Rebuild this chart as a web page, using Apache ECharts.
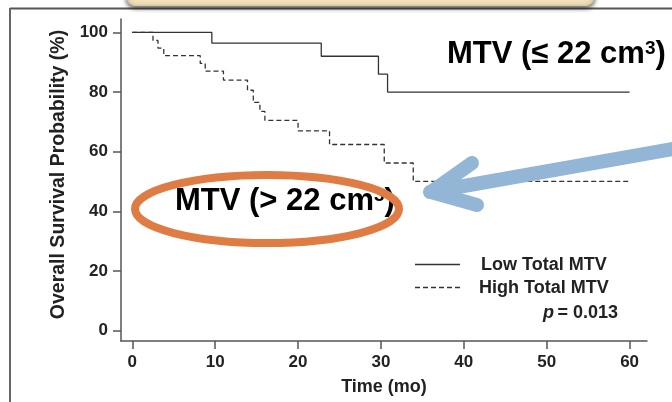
<!DOCTYPE html>
<html>
<head>
<meta charset="utf-8">
<script src="https://cdn.jsdelivr.net/npm/echarts@6/dist/echarts.min.js"></script>
<style>html,body{margin:0;padding:0;background:#fff;}#c{width:672px;height:402px;}</style>
</head>
<body>
<div id="c"></div>
<script>
// ---- data ----
var lowName = 'Low Total MTV';
var highName = 'High Total MTV';
var lowTime = [0, 9.6, 22.8, 29.7, 30.8, 60];
var lowSurv = [100, 96.4, 92.0, 86.0, 80.0, 80.0];
var highTime = [0, 2.5, 3.1, 3.8, 8.2, 8.8, 11.0, 13.9, 14.6, 15.4, 16.0, 20.0, 23.8, 30.4, 33.9, 60];
var highSurv = [100, 97.3, 94.7, 92.2, 89.6, 87.0, 84.0, 80.6, 76.5, 73.5, 70.5, 67.0, 62.4, 56.2, 50.0, 50.0];
var xTicks = [0, 10, 20, 30, 40, 50, 60];
var yTicks = [0, 20, 40, 60, 80, 100];
var pText = '= 0.013';

function pairs(t, s) { return t.map(function (v, i) { return [v, s[i]]; }); }

var FONT = "'Liberation Sans', Arial, sans-serif";
var chart = echarts.init(document.getElementById('c'), null, { renderer: 'canvas' });

var DASH = [5, 3];
var annRich = {
  a: { fontFamily: FONT, fontWeight: 'bold', fontSize: 31, lineHeight: 31, fill: '#000' },
  s: { fontFamily: FONT, fontWeight: 'bold', fontSize: 19, lineHeight: 19, fill: '#000', verticalAlign: 'top' }
};

chart.setOption({
  animation: false,
  backgroundColor: '#ffffff',
  grid: { left: 121, right: 25, top: 19, bottom: 61, containLabel: false },
  xAxis: {
    type: 'value', min: -1.36, max: 62.1,
    name: 'Time (mo)', nameLocation: 'middle', nameGap: 37,
    nameTextStyle: { fontFamily: FONT, fontWeight: 'bold', fontSize: 18, color: '#222' },
    axisLine: { show: true, onZero: false, lineStyle: { color: '#555', width: 1.5 } },
    axisTick: { show: true, length: 8, customValues: xTicks, lineStyle: { color: '#555', width: 1.5 } },
    axisLabel: { customValues: xTicks, margin: 13, fontFamily: FONT, fontWeight: 'bold', fontSize: 17, color: '#222' },
    splitLine: { show: false }
  },
  yAxis: {
    type: 'value', min: -3.52, max: 104.5,
    name: 'Overall Survival Probability (%)', nameLocation: 'middle', nameGap: 48, nameRotate: 90,
    nameTextStyle: { fontFamily: FONT, fontWeight: 'bold', fontSize: 19.5, color: '#222', padding: [0, 0, 0, 11] },
    axisLine: { show: true, onZero: false, lineStyle: { color: '#555', width: 1.5 } },
    axisTick: { show: true, length: 8, customValues: yTicks, lineStyle: { color: '#555', width: 1.5 } },
    axisLabel: { customValues: yTicks, margin: 13, fontFamily: FONT, fontWeight: 'bold', fontSize: 17, color: '#222' },
    splitLine: { show: false }
  },
  series: [
    {
      name: lowName, type: 'line', step: 'end', symbol: 'none',
      lineStyle: { color: '#333', width: 1.3, type: 'solid' },
      data: pairs(lowTime, lowSurv), z: 3
    },
    {
      name: highName, type: 'line', step: 'end', symbol: 'none',
      lineStyle: { color: '#333', width: 1.3, type: DASH },
      data: pairs(highTime, highSurv), z: 3
    }
  ],
  graphic: [
    // frame
    { type: 'line', z: 1, shape: { x1: 10, y1: 8.5, x2: 672, y2: 8.5 }, style: { stroke: '#555', lineWidth: 2 } },
    { type: 'line', z: 1, shape: { x1: 10, y1: 8, x2: 10, y2: 402 }, style: { stroke: '#666', lineWidth: 2 } },
    // beige box at top
    { type: 'rect', z: 5, shape: { x: 127, y: -20, width: 467, height: 25.5, r: 8 },
      style: { fill: '#F1E0BA', stroke: '#D9C39A', lineWidth: 1, shadowBlur: 5, shadowColor: 'rgba(0,0,0,0.65)', shadowOffsetY: 2 } },
    // annotations
    { type: 'text', z: 10, style: { x: 447, y: 54.5, textVerticalAlign: 'middle',
      text: '{a|MTV (≤ 22 cm}{s|3}{a|)}', rich: annRich } },
    { type: 'text', z: 10, style: { x: 175, y: 201.5, textVerticalAlign: 'middle',
      text: '{a|MTV (> 22 cm}{s|3}{a|)}', rich: annRich } },
    // orange ellipse
    { type: 'ellipse', z: 12, shape: { cx: 267, cy: 209, rx: 132, ry: 34 }, style: { fill: null, stroke: '#DF7C43', lineWidth: 8 } },
    // blue arrow
    { type: 'polyline', z: 12, shape: { points: [[430, 192], [690, 146]] }, style: { stroke: '#93B5D6', lineWidth: 14, lineCap: 'round', fill: null } },
    { type: 'polyline', z: 12, shape: { points: [[472, 163], [431, 192], [477, 205]] }, style: { stroke: '#93B5D6', lineWidth: 14, lineCap: 'round', lineJoin: 'round', fill: null } },
    // legend
    { type: 'line', z: 10, shape: { x1: 415, y1: 264.5, x2: 460, y2: 264.5 }, style: { stroke: '#333', lineWidth: 1.3 } },
    { type: 'line', z: 10, shape: { x1: 415, y1: 287.5, x2: 460, y2: 287.5 }, style: { stroke: '#333', lineWidth: 1.3, lineDash: DASH } },
    { type: 'text', z: 10, style: { x: 481, y: 265, text: lowName, font: 'bold 18px ' + FONT, fill: '#222', textVerticalAlign: 'middle' } },
    { type: 'text', z: 10, style: { x: 479, y: 288, text: highName, font: 'bold 18px ' + FONT, fill: '#222', textVerticalAlign: 'middle' } },
    // p value
    { type: 'text', z: 10, style: { x: 618, y: 313, textAlign: 'right', textVerticalAlign: 'middle',
      text: '{i|p} {n|' + pText + '}',
      rich: { i: { fontFamily: FONT, fontWeight: 'bold', fontStyle: 'italic', fontSize: 18, fill: '#222' },
              n: { fontFamily: FONT, fontWeight: 'bold', fontSize: 18, fill: '#222' } } } }
  ]
});
</script>
</body>
</html>
